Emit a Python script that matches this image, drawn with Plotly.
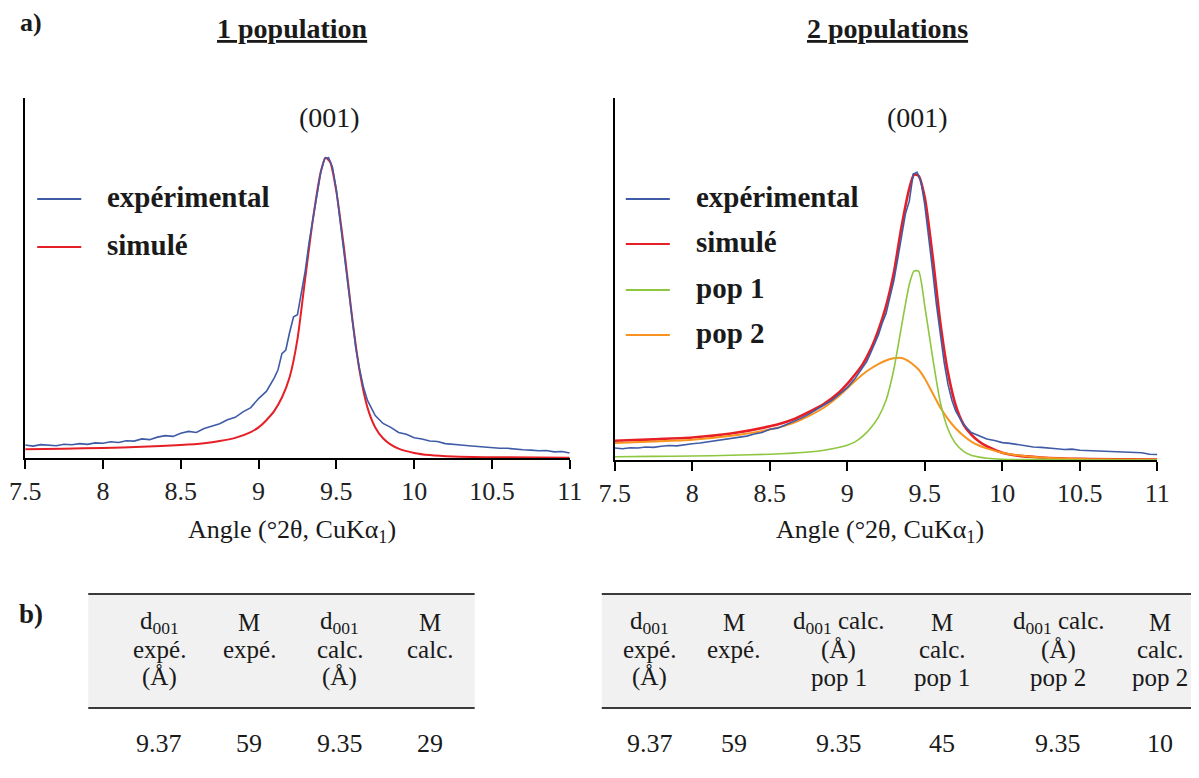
import plotly.graph_objects as go

# measured mapping of the photographed page: shown_x = 22.8 + 0.975 * fig_x, shown_y = 8 + fig_y
X0, KX, Y0 = 22.8, 0.975, 8
W, H = 1206, 770
SERIF = "Liberation Serif"

# ---------------- data ----------------
X_TICKS = [7.5, 8, 8.5, 9, 9.5, 10, 10.5, 11]

# experimental pattern grid (°2θ)
X_EXP = [7.50, 7.55, 7.60, 7.65, 7.70, 7.75, 7.80, 7.85, 7.90, 7.95,
         8.00, 8.05, 8.10, 8.15, 8.20, 8.25, 8.30, 8.35, 8.40, 8.45,
         8.50, 8.55, 8.60, 8.65, 8.70, 8.75, 8.80, 8.85, 8.90, 8.95,
         9.00, 9.05, 9.10,
         9.125, 9.15, 9.175, 9.20, 9.225, 9.25, 9.275, 9.30, 9.325, 9.35,
         9.375, 9.40, 9.425, 9.45, 9.475, 9.50, 9.525, 9.55, 9.575, 9.60,
         9.625, 9.65, 9.675, 9.70,
         9.75, 9.80, 9.85, 9.90, 9.95, 10.00, 10.05, 10.10, 10.15, 10.20,
         10.25, 10.30, 10.35, 10.40, 10.45, 10.50, 10.55, 10.60, 10.65, 10.70,
         10.75, 10.80, 10.85, 10.90, 10.95, 11.00]

EXP_1POP = [0.036, 0.033, 0.037, 0.036, 0.034, 0.038, 0.037, 0.040, 0.038, 0.042,
            0.041, 0.045, 0.043, 0.048, 0.047, 0.053, 0.051, 0.058, 0.062, 0.060,
            0.069, 0.074, 0.071, 0.082, 0.088, 0.095, 0.106, 0.113, 0.128, 0.140,
            0.165, 0.185, 0.222,
            0.245, 0.290, 0.300, 0.350, 0.392, 0.398, 0.455, 0.520, 0.600, 0.665,
            0.735, 0.795, 0.832, 0.834, 0.808, 0.745, 0.655, 0.565, 0.470, 0.380,
            0.305, 0.245, 0.195, 0.160,
            0.118, 0.096, 0.085, 0.071, 0.066, 0.056, 0.053, 0.047, 0.046, 0.040,
            0.039, 0.036, 0.034, 0.032, 0.030, 0.028, 0.027, 0.027, 0.024, 0.023,
            0.022, 0.020, 0.021, 0.017, 0.018, 0.014]

EXP_2POP = [0.033, 0.031, 0.034, 0.033, 0.036, 0.035, 0.038, 0.040, 0.039, 0.043,
            0.045, 0.047, 0.050, 0.052, 0.056, 0.058, 0.063, 0.066, 0.072, 0.076,
            0.085, 0.088, 0.097, 0.105, 0.115, 0.126, 0.138, 0.152, 0.165, 0.183,
            0.200, 0.225, 0.255,
            0.272, 0.295, 0.318, 0.345, 0.378, 0.405, 0.450, 0.495, 0.555, 0.615,
            0.680, 0.715, 0.790, 0.795, 0.770, 0.705, 0.620, 0.525, 0.430, 0.345,
            0.270, 0.208, 0.165, 0.135,
            0.098, 0.076, 0.066, 0.058, 0.054, 0.048, 0.046, 0.042, 0.040, 0.036,
            0.035, 0.032, 0.031, 0.029, 0.030, 0.027, 0.026, 0.024, 0.025, 0.022,
            0.021, 0.022, 0.019, 0.020, 0.016, 0.015]

# simulated profiles grid
X_SIM = [7.50, 7.75, 8.00, 8.25, 8.50, 8.65, 8.75, 8.85, 8.95, 9.00,
         9.05, 9.10, 9.15, 9.20, 9.25, 9.30, 9.35, 9.40, 9.43, 9.46,
         9.50, 9.55, 9.60, 9.65, 9.70, 9.75, 9.80, 9.85, 9.90, 10.00,
         10.10, 10.25, 10.50, 11.00]

SIM_1POP = [0.024, 0.026, 0.028, 0.031, 0.036, 0.041, 0.047, 0.056, 0.072, 0.085,
            0.105, 0.130, 0.168, 0.225, 0.330, 0.500, 0.665, 0.795, 0.834, 0.822,
            0.740, 0.580, 0.395, 0.240, 0.140, 0.085, 0.055, 0.037, 0.026, 0.014,
            0.008, 0.004, 0.002, 0.001]

SIM_2POP = [0.053, 0.057, 0.062, 0.073, 0.093, 0.112, 0.132, 0.155, 0.188, 0.210,
            0.236, 0.265, 0.305, 0.358, 0.425, 0.517, 0.645, 0.750, 0.788, 0.785,
            0.725, 0.565, 0.380, 0.240, 0.150, 0.098, 0.070, 0.051, 0.038, 0.020,
            0.012, 0.007, 0.003, 0.001]

POP1 = [0.009, 0.010, 0.011, 0.013, 0.016, 0.019, 0.022, 0.027, 0.035, 0.041,
        0.050, 0.066, 0.088, 0.118, 0.165, 0.250, 0.370, 0.485, 0.522, 0.522,
        0.425, 0.285, 0.160, 0.085, 0.045, 0.024, 0.013, 0.008, 0.005, 0.002,
        0.001, 0.001, 0.000, 0.000]

POP2 = [0.047, 0.051, 0.056, 0.067, 0.084, 0.102, 0.121, 0.145, 0.178, 0.198,
        0.218, 0.237, 0.252, 0.265, 0.275, 0.281, 0.282, 0.272, 0.262, 0.250,
        0.225, 0.185, 0.145, 0.113, 0.087, 0.067, 0.051, 0.040, 0.032, 0.020,
        0.013, 0.007, 0.003, 0.001]

# tables
HEAD_1POP = [["d<sub>001</sub>", "expé.", "(Å)"], ["M", "expé."],
             ["d<sub>001</sub>", "calc.", "(Å)"], ["M", "calc."]]
ROW_1POP = ["9.37", "59", "9.35", "29"]

HEAD_2POP = [["d<sub>001</sub>", "expé.", "(Å)"], ["M", "expé."],
             ["d<sub>001</sub> calc.", "(Å)", "pop 1"], ["M", "calc.", "pop 1"],
             ["d<sub>001</sub> calc.", "(Å)", "pop 2"], ["M", "calc.", "pop 2"]]
ROW_2POP = ["9.37", "59", "9.35", "45", "9.35", "10"]

BLUE = "#3f5ba6"
RED = "#e61f26"
GREEN = "#8dc63f"
ORANGE = "#f7931e"


def px(x):
    # reference pixel -> paper fraction
    return (x - X0) / KX / W


def py(y):
    return 1 - (y - Y0) / H


fig = go.Figure()

# left panel : 1 population
fig.add_trace(go.Scatter(x=X_SIM, y=SIM_1POP, mode="lines", name="simulé",
                         line=dict(color=RED, width=2, shape="spline", smoothing=0.6),
                         xaxis="x", yaxis="y"))
fig.add_trace(go.Scatter(x=X_EXP, y=EXP_1POP, mode="lines", name="expérimental",
                         line=dict(color=BLUE, width=1.6), xaxis="x", yaxis="y"))

# right panel : 2 populations
fig.add_trace(go.Scatter(x=X_SIM, y=SIM_2POP, mode="lines", name="simulé",
                         line=dict(color=RED, width=2.6, shape="spline", smoothing=0.6),
                         xaxis="x2", yaxis="y2"))
fig.add_trace(go.Scatter(x=X_SIM, y=POP2, mode="lines", name="pop 2",
                         line=dict(color=ORANGE, width=2, shape="spline", smoothing=0.6),
                         xaxis="x2", yaxis="y2"))
fig.add_trace(go.Scatter(x=X_SIM, y=POP1, mode="lines", name="pop 1",
                         line=dict(color=GREEN, width=1.6, shape="spline", smoothing=0.6),
                         xaxis="x2", yaxis="y2"))
fig.add_trace(go.Scatter(x=X_EXP, y=EXP_2POP, mode="lines", name="expérimental",
                         line=dict(color=BLUE, width=1.6), xaxis="x2", yaxis="y2"))

xaxis_style = dict(range=[7.5, 11], tickvals=X_TICKS, showline=True, linecolor="black",
                   linewidth=2, ticks="outside", ticklen=9, tickwidth=2, tickcolor="black",
                   showgrid=False, zeroline=False,
                   tickfont=dict(family=SERIF, size=26, color="#222"))
yaxis_style = dict(range=[0, 1], showline=True, linecolor="black", linewidth=2,
                   showticklabels=False, ticks="", showgrid=False, zeroline=False)

fig.update_layout(
    width=W, height=H, margin=dict(l=0, r=0, t=0, b=0),
    paper_bgcolor="white", plot_bgcolor="white", showlegend=False,
    font=dict(family=SERIF),
    xaxis=dict(domain=[px(24), px(568)], anchor="y", **xaxis_style),
    yaxis=dict(domain=[py(458), py(98)], anchor="x", **yaxis_style),
    xaxis2=dict(domain=[px(613), px(1155)], anchor="y2", **xaxis_style),
    yaxis2=dict(domain=[py(460), py(98)], anchor="x2", **yaxis_style),
)

ann = []
shapes = []


def text(x, y, s, size, bold=False, anchor="center"):
    ann.append(dict(x=px(x), y=py(y), xref="paper", yref="paper", text=s, showarrow=False,
                    xanchor=anchor, yanchor="middle",
                    font=dict(family=SERIF, size=size, color="#1a1a1a",
                              weight="bold" if bold else "normal")))


text(30, 23, "a)", 26, bold=True)
text(30, 614, "b)", 27, bold=True)
text(291, 28, "<u>1 population</u>", 28, bold=True)
text(885, 28, "<u>2 populations</u>", 28, bold=True)
text(328, 118, "(001)", 28)
text(915, 118, "(001)", 28)
text(291, 531, "Angle (°2θ, CuKα<sub>1</sub>)", 26)
text(878, 531, "Angle (°2θ, CuKα<sub>1</sub>)", 26)

# legends
legend_left = [("expérimental", BLUE, 199), ("simulé", RED, 247)]
legend_right = [("expérimental", BLUE, 199), ("simulé", RED, 244),
                ("pop 1", GREEN, 290), ("pop 2", ORANGE, 335)]
for items, x0 in ((legend_left, 36), (legend_right, 624)):
    for name, col, y in items:
        shapes.append(dict(type="line", xref="paper", yref="paper",
                           x0=px(x0), x1=px(x0 + 44), y0=py(y), y1=py(y),
                           line=dict(color=col, width=2)))
        text(x0 + 68, y - 2, name, 29, bold=True, anchor="left")

# tables
tables = [
    (HEAD_1POP, ROW_1POP, [158, 248, 338, 428], 87, 473),
    (HEAD_2POP, ROW_2POP, [648, 732, 837, 940, 1056, 1158], 600, 1199),
]
for head, row, cx, xl, xr in tables:
    shapes.append(dict(type="rect", xref="paper", yref="paper", layer="below",
                       x0=px(xl), x1=min(px(xr), 1), y0=py(594), y1=py(708),
                       fillcolor="#f1f1f1", line=dict(width=0)))
    for yy in (594, 708):
        shapes.append(dict(type="line", xref="paper", yref="paper",
                           x0=px(xl), x1=min(px(xr), 1), y0=py(yy), y1=py(yy),
                           line=dict(color="#3a3a3a", width=2)))
    for c, lines, val in zip(cx, head, row):
        for i, ln in enumerate(lines):
            text(c, 622 + 27.5 * i, ln, 25)
        text(c, 743, val, 26)

fig.update_layout(annotations=ann, shapes=shapes)
fig.write_html("out.html")
